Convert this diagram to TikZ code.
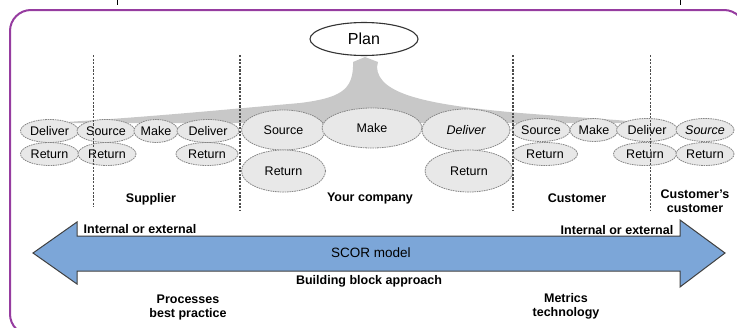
\documentclass[tikz,border=0pt]{standalone}
\usepackage{fontspec}
\setmainfont{Liberation Sans}
\usetikzlibrary{shapes.geometric}
\definecolor{framepurple}{RGB}{150,60,160}
\definecolor{arrowblue}{RGB}{124,166,216}
\definecolor{ellfill}{RGB}{232,232,232}
\definecolor{fangray}{RGB}{200,200,200}
\begin{document}
\begin{tikzpicture}[x=1pt,y=-1pt,
 proc/.style={ellipse, draw=gray!95, dash pattern=on 1.6pt off 0.8pt, line width=0.8pt, fill=ellfill, inner sep=0pt, font=\fontsize{12.5}{14}\selectfont},
 bigproc/.style={proc, minimum height=40pt},
 smallproc/.style={proc, minimum height=23pt},
 lbl/.style={font=\fontsize{12.5}{14}\selectfont\bfseries, inner sep=0pt, align=center},
 divider/.style={dash pattern=on 2.2pt off 1.4pt, draw=black!70},
 frameline/.style={draw=framepurple, line width=2pt},
]
\useasboundingbox (0,0) rectangle (737,327);
\clip (0,0) rectangle (737,327);

% frame
\draw[frameline, rounded corners=21pt] (10,335) -- (10,10) -- (745,10) -- (745,335) -- cycle;
\draw[black, line width=0.8pt] (117,0) -- (117,5);
\draw[black, line width=0.8pt] (680,0) -- (680,5);

% gray fan from Plan
\fill[fangray] (353,62) -- (365,57) -- (378,62) -- (377,67)
  .. controls (378,95) and (430,105) .. (520,113)
  .. controls (570,117) and (610,119) .. (650,123) -- (50,123)
  .. controls (150,117) and (220,110) .. (300,103)
  .. controls (340,98) and (352,90) .. (353,67) -- cycle;

% Plan
\node[ellipse, draw=black!80, line width=1.1pt, fill=white, minimum width=108pt, minimum height=33pt, inner sep=0pt, font=\fontsize{16}{18}\selectfont] (plan) at (364,39) {Plan};

% supplier group
\node[smallproc, minimum width=58pt] (sd) at (49.5,131) {Deliver};
\node[smallproc, minimum width=58pt] (ss) at (106,131) {Source};
\node[smallproc, minimum width=44pt] (sm) at (156,131) {Make};
\node[smallproc, minimum width=62pt] (sd2) at (208,131) {Deliver};
\node[smallproc, minimum width=58pt] (sr1) at (49.5,154) {Return};
\node[smallproc, minimum width=58pt] (sr2) at (107,154) {Return};
\node[smallproc, minimum width=62pt] (sr3) at (207,154) {Return};

% company group
\node[bigproc, minimum width=84pt] (cs) at (283.5,130) {Source};
\node[bigproc, minimum width=100pt] (cm) at (372,128) {Make};
\node[bigproc, minimum width=88pt, minimum height=42pt, font=\fontsize{12.5}{14}\selectfont\itshape] (cd) at (466,130) {Deliver};
\node[bigproc, minimum width=84pt, minimum height=42pt] (cr1) at (283.5,171) {Return};
\node[bigproc, minimum width=88pt, minimum height=42pt] (cr2) at (469,171) {Return};

% customer group
\node[smallproc, minimum width=58pt] (us) at (541,130) {Source};
\node[smallproc, minimum width=48pt] (um) at (594,130) {Make};
\node[smallproc, minimum width=61pt] (ud) at (647,130) {Deliver};
\node[smallproc, minimum width=58pt, font=\fontsize{12.5}{14}\selectfont\itshape] (us2) at (705,130) {Source};
\node[smallproc, minimum width=65pt] (ur1) at (545,154) {Return};
\node[smallproc, minimum width=63pt] (ur2) at (645,154) {Return};
\node[smallproc, minimum width=58pt] (ur3) at (705,154) {Return};

% dividers
\coordinate (v1t) at (93,55);  \coordinate (v1b) at (93,207);
\coordinate (v2t) at (240,55); \coordinate (v2b) at (240,210);
\coordinate (v3t) at (513,55); \coordinate (v3b) at (513,210);
\coordinate (v4t) at (650,55); \coordinate (v4b) at (650,210);
\draw[divider, line width=0.9pt] (v1t) -- (v1b);
\draw[divider, line width=1.8pt] (v2t) -- (v2b);
\draw[divider, line width=1.8pt] (v3t) -- (v3b);
\draw[divider, line width=0.9pt] (v4t) -- (v4b);

% labels
\node[lbl] (lsup) at (151,199) {Supplier};
\node[lbl] (lcom) at (370,198) {Your company};
\node[lbl] (lcus) at (577,198) {Customer};
\node[lbl] (lcc) at (695,201) {Customer's\\customer};
\node[lbl] (lie1) at (140,229) {Internal or external};
\node[lbl] (lie2) at (617,230) {Internal or external};

% SCOR arrow
\draw[fill=arrowblue, draw=black!75, line width=1pt, line join=miter]
  (33,253) -- (77,222) -- (77,236) -- (680,236) -- (680,220) -- (725,253)
  -- (680,287) -- (680,271) -- (77,271) -- (77,284) -- cycle;
\node[font=\fontsize{13.5}{15}\selectfont, inner sep=0pt] (scor) at (371,253) {SCOR model};

\node[lbl] (lbb) at (369,281) {Building block approach};
\node[lbl] (lpr) at (188,307.5) {Processes\\best practice};
\node[lbl] (lme) at (566,306.5) {Metrics\\technology};
\end{tikzpicture}
\end{document}
